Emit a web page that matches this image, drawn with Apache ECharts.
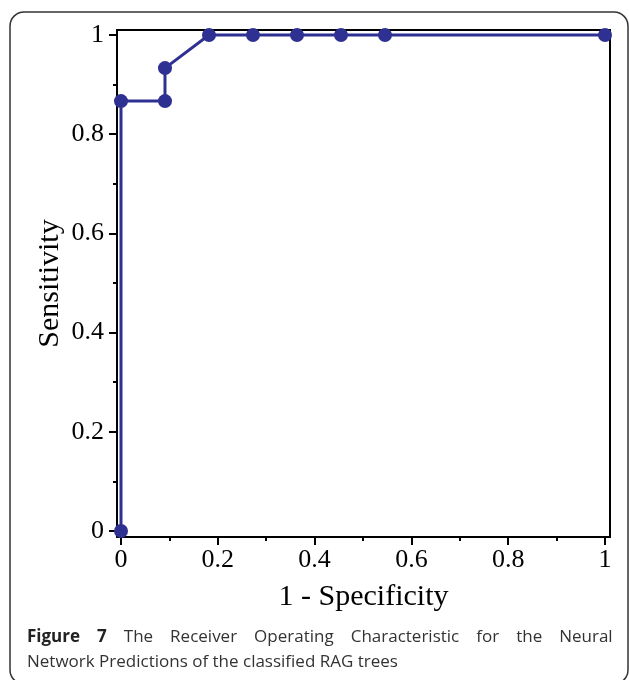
<!DOCTYPE html>
<html>
<head>
<meta charset="utf-8">
<script src="https://cdn.jsdelivr.net/npm/echarts@6/dist/echarts.min.js"></script>
<style>
  html, body { margin: 0; padding: 0; background: #fff; }
  #chart { width: 629px; height: 680px; }
</style>
</head>
<body>
<div id="chart"></div>
<script>
// ROC points (1 - specificity, sensitivity)
const fpr = [0, 0, 0.0909, 0.0909, 0.1818, 0.2727, 0.3636, 0.4545, 0.5454, 1]
const tpr = [0, 0.8667, 0.8667, 0.9333, 1, 1, 1, 1, 1, 1]
const majorTicks = [0, 0.2, 0.4, 0.6, 0.8, 1]
const minorTicks = [0.1, 0.3, 0.5, 0.7, 0.9]

const chart = echarts.init(document.getElementById('chart'))

const serif = 'Liberation Serif'
const axisBase = {
  type: 'value',
  splitLine: { show: false },
  nameMoveOverlap: false,
}
const tickStyle = { color: '#000', width: 2 }

chart.setOption({
  backgroundColor: '#fff',
  animation: false,
  grid: {
    left: 117, right: 19, top: 30, bottom: 143,
    show: true, borderColor: '#000', borderWidth: 2,
  },
  graphic: [
    {
      type: 'rect',
      shape: { x: 10, y: 12, width: 618, height: 672, r: 14 },
      style: { fill: 'none', stroke: '#333', lineWidth: 1.5 },
      silent: true,
    },
    {
      // first caption line is justified in the original, so the gaps are widened
      type: 'text',
      left: 27, top: 629,
      style: {
        text: '{b|Figure}{s| }{b|7}{s| }The{s| }Receiver{s| }Operating{s| }Characteristic{s| }for{s| }the{s| }Neural',
        font: '17px "Open Sans"',
        fill: '#333',
        rich: {
          b: { fontWeight: 'bold', fontSize: 17, fontFamily: 'Open Sans', fill: '#222' },
          s: { width: 17, fontSize: 17, fontFamily: 'Open Sans' },
        },
      },
    },
    {
      type: 'text',
      left: 27, top: 654,
      style: {
        text: 'Network Predictions of the classified RAG trees',
        font: '17px "Open Sans"',
        fill: '#333',
      },
    },
  ],
  xAxis: [
    {
      ...axisBase,
      min: -0.00826, max: 1.0103,
      name: '1 - Specificity',
      nameLocation: 'middle',
      nameGap: 45,
      nameTextStyle: { fontFamily: serif, fontSize: 30, color: '#000' },
      axisLine: { onZero: false, lineStyle: { color: '#000', width: 2 } },
      axisTick: { customValues: majorTicks, length: 8, lineStyle: tickStyle },
      axisLabel: { customValues: majorTicks, margin: 10, fontFamily: serif, fontSize: 26, color: '#000' },
    },
    {
      ...axisBase,
      min: -0.00826, max: 1.0103,
      position: 'bottom',
      axisLine: { show: false, onZero: false },
      axisTick: { customValues: minorTicks, length: 4, lineStyle: tickStyle },
      axisLabel: { show: false },
    },
  ],
  yAxis: [
    {
      ...axisBase,
      min: -0.0121, max: 1.01008,
      name: 'Sensitivity',
      nameLocation: 'middle',
      nameGap: 52,
      nameTextStyle: { fontFamily: serif, fontSize: 30, color: '#000' },
      axisLine: { onZero: false, lineStyle: { color: '#000', width: 2 } },
      axisTick: { customValues: majorTicks, length: 8, lineStyle: tickStyle },
      axisLabel: { customValues: majorTicks, margin: 13, fontFamily: serif, fontSize: 26, color: '#000' },
    },
    {
      ...axisBase,
      min: -0.0121, max: 1.01008,
      position: 'left',
      axisLine: { show: false, onZero: false },
      axisTick: { customValues: minorTicks, length: 4, lineStyle: tickStyle },
      axisLabel: { show: false },
    },
  ],
  series: [
    {
      type: 'line',
      xAxisIndex: 0,
      yAxisIndex: 0,
      data: fpr.map((x, i) => [x, tpr[i]]),
      symbol: 'circle',
      symbolSize: 14,
      lineStyle: { color: '#2e3192', width: 3 },
      itemStyle: { color: '#2e3192' },
      z: 3,
    },
  ],
})
</script>
</body>
</html>
